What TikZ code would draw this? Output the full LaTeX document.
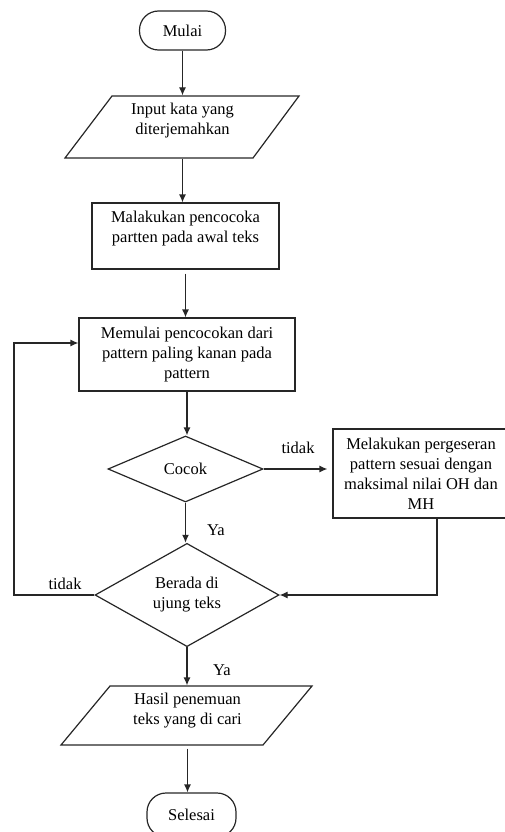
\documentclass[tikz,border=0pt]{standalone}
\usepackage{fontspec}
\setmainfont{Liberation Serif}
\usetikzlibrary{shapes.geometric,arrows.meta}
\begin{document}
\begin{tikzpicture}[x=1pt,y=-1pt,
  line width=1.2pt,
  every node/.style={font=\fontsize{16.5}{20}\selectfont, inner sep=0pt, align=center, text=black},
  term/.style={draw=black!85, rectangle, rounded corners=19pt},
  proc/.style={draw=black!85, rectangle},
  dec/.style={draw=black!85, diamond},
  io/.style={rectangle},
  arr/.style={draw=black!85, -{Latex[length=8pt,width=7pt]}},
  plain/.style={draw=black!85}]
\path[use as bounding box] (0,0) rectangle (505,832);
\clip (0,0) rectangle (505,832);

% start
\node[term, minimum width=86pt, minimum height=39pt] (mulai) at (182.5,30.5) {Mulai};

% input
\draw[plain] (112,96) -- (299,96) -- (253,158) -- (65,158) -- cycle;
\node[io, minimum width=140pt, minimum height=62pt] (input) at (182.5,127) {};
\node (inputtxt) at (182.5,120.5) {Input kata yang\\diterjemahkan};

% box 2
\node[proc, minimum width=187pt, minimum height=66pt] (malakukan) at (185.5,236) {};
\node (malakukantxt) at (185.5,228.5) {Malakukan pencocoka\\partten pada awal teks};

% box 3
\node[proc, minimum width=216pt, minimum height=73pt] (memulai) at (187,354.5) {Memulai pencocokan dari\\pattern paling kanan pada\\pattern};

% cocok
\node[dec, minimum width=155pt, minimum height=66pt] (cocok) at (185.5,469) {Cocok};

% geser
\node[proc, minimum width=176pt, minimum height=89pt] (geser) at (421,473.5) {Melakukan pergeseran\\pattern sesuai dengan\\maksimal nilai OH dan\\MH};

% berada
\node[dec, minimum width=184pt, minimum height=96pt] (berada) at (187,595) {Berada di\\ujung teks};

% output
\draw[plain] (110,686) -- (312,686) -- (263,745) -- (61,745) -- cycle;
\node[io, minimum width=150pt, minimum height=59pt] (hasil) at (187.5,715.5) {};
\node (hasiltxt) at (187.5,710.5) {Hasil penemuan\\teks yang di cari};

% end
\node[term, minimum width=89pt, minimum height=44pt] (selesai) at (191.5,815) {Selesai};

% connectors
\draw[arr] (mulai.south) -- (mulai.south |- input.north);
\draw[arr] (input.south) -- (input.south |- malakukan.north);
\draw[arr] ([yshift=-4pt]malakukan.south) -- (malakukan.south |- memulai.north);
\draw[arr] (memulai.south) -- (memulai.south |- cocok.north);
\draw[arr] (cocok.east) -- ([xshift=-5pt]cocok.east -| geser.west);
\draw[arr] (cocok.south) -- (cocok.south |- berada.north);
\coordinate (loopc) at (14,595);
\draw[arr] (berada.west) -- (loopc) |- ([yshift=11.5pt]memulai.west);
\draw[arr] ([xshift=16pt]geser.south) |- (berada.east);
\draw[arr] (berada.south) -- (berada.south |- hasil.north);
\draw[arr] ([yshift=-3pt]hasil.south) -- (hasil.south |- selesai.north);

% labels
\node (t1) at (298,448) {tidak};
\node (y1) at (216,530) {Ya};
\node (t2) at (65,584) {tidak};
\node (y2) at (222,670) {Ya};
\end{tikzpicture}
\end{document}
